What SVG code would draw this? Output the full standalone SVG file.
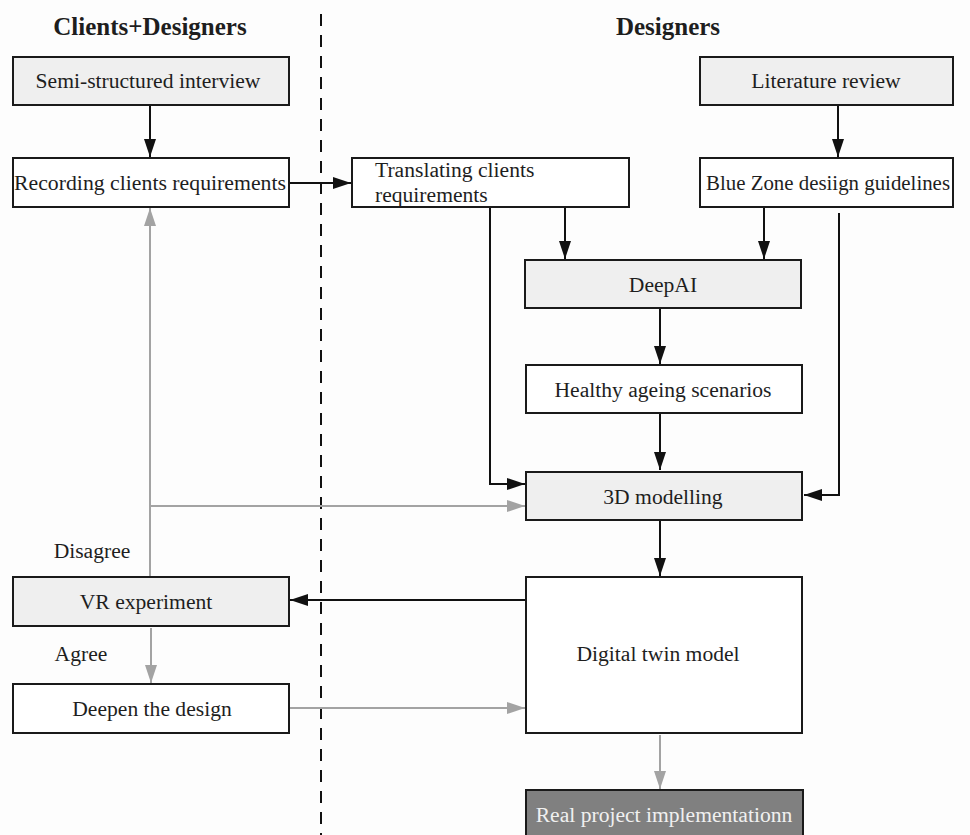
<svg xmlns="http://www.w3.org/2000/svg" width="970" height="835" viewBox="0 0 970 835">
  <style>
    text { font-family: "Liberation Serif", "Times New Roman", serif; font-size: 21.6px; fill: #1e1e1e; }
    .title { font-weight: bold; font-size: 25px; }
    .box { stroke: #1a1a1a; stroke-width: 2; }
    .light { fill: #efefef; }
    .plain { fill: #ffffff; }
    .dark { fill: #808080; }
    .blk { stroke: #111; stroke-width: 2; fill: none; }
    .gry { stroke: #a3a3a3; stroke-width: 2; fill: none; }
    .mid { text-anchor: middle; }
  </style>
  <defs>
    <marker id="ah" markerUnits="userSpaceOnUse" markerWidth="18" markerHeight="14" viewBox="0 0 18 14" refX="18" refY="7" orient="auto">
      <path d="M0,1 L18,7 L0,13 Z" fill="#111"/>
    </marker>
    <marker id="ahg" markerUnits="userSpaceOnUse" markerWidth="18" markerHeight="14" viewBox="0 0 18 14" refX="18" refY="7" orient="auto">
      <path d="M0,1 L18,7 L0,13 Z" fill="#a3a3a3"/>
    </marker>
  </defs>

  <rect width="970" height="835" fill="#fdfdfd"/>

  <!-- lane headings and divider -->
  <text class="title mid" x="150" y="35">Clients+Designers</text>
  <text class="title mid" x="668" y="35">Designers</text>
  <line x1="321" y1="14" x2="321" y2="835" stroke="#111" stroke-width="2" stroke-dasharray="12,9"/>

  <!-- connectors -->
  <g id="connectors">
    <line class="blk" x1="150" y1="105" x2="150" y2="157" marker-end="url(#ah)"/>
    <line class="blk" x1="838" y1="105" x2="838" y2="157" marker-end="url(#ah)"/>
    <line class="blk" x1="289" y1="183" x2="351" y2="183" marker-end="url(#ah)"/>
    <line class="blk" x1="565" y1="207" x2="565" y2="259" marker-end="url(#ah)"/>
    <line class="blk" x1="764" y1="207" x2="764" y2="259" marker-end="url(#ah)"/>
    <polyline class="blk" points="490,207 490,484 525,484" marker-end="url(#ah)"/>
    <polyline class="blk" points="839,213 839,495 804,495" marker-end="url(#ah)"/>
    <line class="blk" x1="660" y1="308" x2="660" y2="364" marker-end="url(#ah)"/>
    <line class="blk" x1="660" y1="413" x2="660" y2="470" marker-end="url(#ah)"/>
    <line class="blk" x1="660" y1="520" x2="660" y2="576" marker-end="url(#ah)"/>
    <line class="blk" x1="526" y1="600" x2="290" y2="600" marker-end="url(#ah)"/>
    <line class="gry" x1="150" y1="577" x2="150" y2="208" marker-end="url(#ahg)"/>
    <line class="gry" x1="150" y1="506" x2="525" y2="506" marker-end="url(#ahg)"/>
    <line class="gry" x1="151" y1="628" x2="151" y2="683" marker-end="url(#ahg)"/>
    <line class="gry" x1="289" y1="708" x2="525" y2="708" marker-end="url(#ahg)"/>
    <line class="gry" x1="660" y1="735" x2="660" y2="789" marker-end="url(#ahg)"/>
  </g>

  <!-- decision labels -->
  <text class="mid" x="92" y="558">Disagree</text>
  <text class="mid" x="81" y="661">Agree</text>

  <!-- nodes -->
  <g id="semi-structured-interview">
    <rect class="box light" x="13" y="57" width="276" height="48"/>
    <text class="mid" x="148" y="88">Semi-structured interview</text>
  </g>
  <g id="literature-review">
    <rect class="box light" x="700" y="57" width="253" height="48"/>
    <text class="mid" x="826" y="88">Literature review</text>
  </g>
  <g id="recording-requirements">
    <rect class="box plain" x="13" y="158" width="276" height="49"/>
    <text class="mid" x="150" y="190" textLength="272" lengthAdjust="spacingAndGlyphs">Recording clients requirements</text>
  </g>
  <g id="translating-requirements">
    <rect class="box plain" x="352" y="158" width="277" height="49"/>
    <text x="375" y="177">Translating clients</text>
    <text x="375" y="202">requirements</text>
  </g>
  <g id="blue-zone-guidelines">
    <rect class="box plain" x="700" y="158" width="253" height="49"/>
    <text class="mid" x="828" y="190" textLength="244" lengthAdjust="spacingAndGlyphs">Blue Zone desiign guidelines</text>
  </g>
  <g id="deepai">
    <rect class="box light" x="525" y="260" width="276" height="48"/>
    <text class="mid" x="663" y="292">DeepAI</text>
  </g>
  <g id="healthy-ageing-scenarios">
    <rect class="box plain" x="526" y="365" width="276" height="48"/>
    <text class="mid" x="663" y="397">Healthy ageing scenarios</text>
  </g>
  <g id="modelling-3d">
    <rect class="box light" x="526" y="472" width="276" height="48"/>
    <text class="mid" x="663" y="504">3D modelling</text>
  </g>
  <g id="vr-experiment">
    <rect class="box light" x="13" y="577" width="276" height="49"/>
    <text class="mid" x="146" y="609">VR experiment</text>
  </g>
  <g id="digital-twin-model">
    <rect class="box plain" x="526" y="577" width="276" height="156"/>
    <text class="mid" x="658" y="661">Digital twin model</text>
  </g>
  <g id="deepen-design">
    <rect class="box plain" x="13" y="684" width="276" height="49"/>
    <text class="mid" x="152" y="716">Deepen the design</text>
  </g>
  <g id="real-project-implementation">
    <rect class="box dark" x="526" y="790" width="277" height="50"/>
    <text class="mid" x="664" y="822" style="fill:#f0f0f0">Real project implementationn</text>
  </g>
</svg>
